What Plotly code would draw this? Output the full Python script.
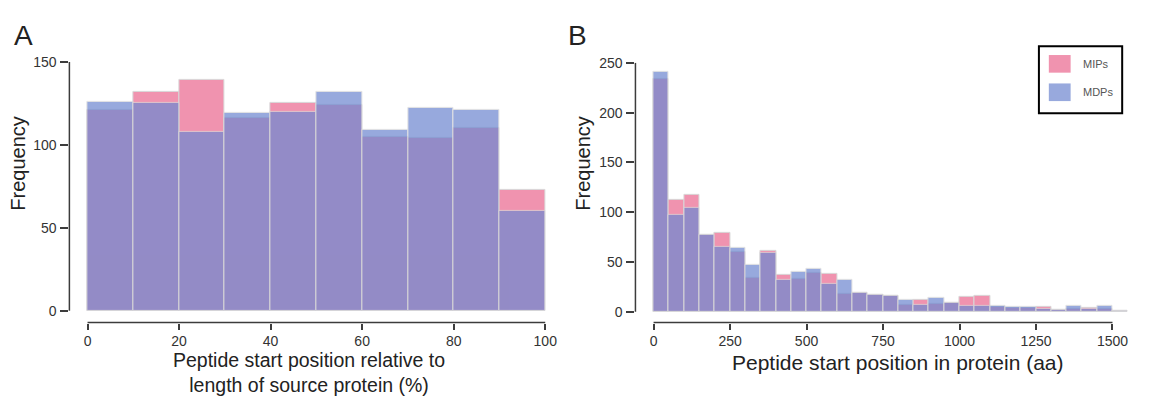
import plotly.graph_objects as go

# ---------------- data ----------------
# Panel A: peptide start position relative to protein length (%), bins of 10
a_edges = [0, 10, 20, 30, 40, 50, 60, 70, 80, 90, 100]
a_mips = [121, 132, 139, 116, 125, 124, 105, 104, 110, 73]
a_mdps = [126, 125, 108, 119, 120, 132, 109, 122, 121, 60]
a_xticks = [0, 20, 40, 60, 80, 100]
a_yticks = [0, 50, 100, 150]

# Panel B: peptide start position in protein (aa), bins of 50
b_edges = list(range(0, 1551, 50))
b_mips = [234, 112, 117, 77, 79, 60, 34, 61, 37, 33, 39, 38, 18, 19, 17, 16,
          7, 12, 8, 9, 15, 16, 5, 4, 4, 5, 2, 3, 4, 3, 1]
b_mdps = [241, 97, 104, 77, 65, 64, 47, 59, 32, 40, 43, 28, 32, 19, 17, 16,
          12, 7, 14, 9, 6, 6, 6, 5, 5, 3, 2, 6, 3, 6, 1]
b_xticks = [0, 250, 500, 750, 1000, 1250, 1500]
b_yticks = [0, 50, 100, 150, 200, 250]

series_names = ["MIPs", "MDPs"]

# ---------------- style ----------------
W, H = 1153, 397
PINK = "#F093AF"
BLUE = "#7088D0"
BLUE_OPACITY = 0.72
OUTLINE = "#d8d8d8"
AXC = "#3c3c3c"
FONT = "Liberation Sans, Arial, sans-serif"


def px_x(p):
    return p / W


def px_y(p):
    return 1 - p / H


def centers(edges):
    return [(edges[i] + edges[i + 1]) / 2 for i in range(len(edges) - 1)]


def widths(edges):
    return [edges[i + 1] - edges[i] for i in range(len(edges) - 1)]


fig = go.Figure()

for xa, ya, edges, mips, mdps in [("x", "y", a_edges, a_mips, a_mdps),
                                  ("x2", "y2", b_edges, b_mips, b_mdps)]:
    fig.add_trace(go.Bar(x=centers(edges), y=mips, width=widths(edges), name=series_names[0],
                         marker=dict(color=PINK, line=dict(color=OUTLINE, width=1)),
                         xaxis=xa, yaxis=ya, showlegend=False))
    fig.add_trace(go.Bar(x=centers(edges), y=mdps, width=widths(edges), name=series_names[1],
                         marker=dict(color=BLUE, line=dict(color=OUTLINE, width=1)),
                         opacity=BLUE_OPACITY,
                         xaxis=xa, yaxis=ya, showlegend=False))

# pixel geometry of the two panels
A_left, A_right, B_left, B_right = 70, 552, 641, 1142
top_A, top_B, bottom = 55, 56, 321

# x ranges (axis 0 at 88.3 px / 100 at 550 px for A; 0 at 659.3 / 1500 at 1122.2 for B)
a_scale = (550 - 88.3) / 100
a_xr = [(A_left - 88.3) / a_scale, (A_right - 88.3) / a_scale]
b_scale = (1122.2 - 659.3) / 1500
b_xr = [(B_left - 659.3) / b_scale, (B_right - 659.3) / b_scale]
# y ranges (0 at 309 px, top of plot = max tick)
a_ys = (309 - 55) / 150
a_yr = [-(bottom - 309) / a_ys, 150]
b_ys = (310 - 56) / 250
b_yr = [-(bottom - 310) / b_ys, 250]

tickfont = dict(family=FONT, size=14, color="#333333")
common_x = dict(showgrid=False, zeroline=False, showline=False, ticks="outside",
                ticklen=6, tickwidth=1.5, tickcolor=AXC, tickfont=tickfont,
                ticklabelstandoff=0)
common_y = dict(showgrid=False, zeroline=False, showline=False, ticks="outside",
                ticklen=8, tickwidth=1.5, tickcolor=AXC, tickfont=tickfont,
                ticklabelstandoff=1)

fig.update_layout(
    width=W, height=H,
    margin=dict(l=0, r=0, t=0, b=0),
    paper_bgcolor="white", plot_bgcolor="white",
    barmode="overlay", bargap=0,
    font=dict(family=FONT),
    xaxis=dict(domain=[px_x(A_left), px_x(A_right)], range=a_xr, tickvals=a_xticks, anchor="y", **common_x),
    yaxis=dict(domain=[px_y(bottom), px_y(top_A)], range=a_yr, tickvals=a_yticks, anchor="x", **common_y),
    xaxis2=dict(domain=[px_x(B_left), px_x(B_right)], range=b_xr, tickvals=b_xticks, anchor="y2", **common_x),
    yaxis2=dict(domain=[px_y(bottom), px_y(top_B)], range=b_yr, tickvals=b_yticks, anchor="x2", **common_y),
)

line = dict(color=AXC, width=1.5)
shapes = [
    dict(type="line", xref="x domain", yref="y", x0=0, x1=0, y0=0, y1=a_yticks[-1], line=line),
    dict(type="line", xref="x", yref="y domain", x0=a_xticks[0], x1=a_xticks[-1], y0=0, y1=0, line=line),
    dict(type="line", xref="x2 domain", yref="y2", x0=0, x1=0, y0=0, y1=b_yticks[-1], line=line),
    dict(type="line", xref="x2", yref="y2 domain", x0=b_xticks[0], x1=b_xticks[-1], y0=0, y1=0, line=line),
    # legend box and keys
    dict(type="rect", xref="paper", yref="paper", x0=px_x(1048), x1=px_x(1132),
         y0=px_y(107.5), y1=px_y(39), line=dict(color="black", width=2), fillcolor="white"),
    dict(type="rect", xref="paper", yref="paper", x0=px_x(1058), x1=px_x(1080),
         y0=px_y(66), y1=px_y(48), line=dict(width=0), fillcolor=PINK),
    dict(type="rect", xref="paper", yref="paper", x0=px_x(1058), x1=px_x(1080),
         y0=px_y(95), y1=px_y(77), line=dict(width=0), fillcolor=BLUE, opacity=BLUE_OPACITY),
]
fig.update_layout(shapes=shapes)

ann = [
    dict(text="A", x=px_x(12), y=px_y(10), xanchor="left", yanchor="top",
         font=dict(size=28, color="#222")),
    dict(text="B", x=px_x(571), y=px_y(10), xanchor="left", yanchor="top",
         font=dict(size=28, color="#222")),
    dict(text="Frequency", x=px_x(18), y=px_y(158), textangle=-90,
         xanchor="center", yanchor="middle", font=dict(size=20, color="#222")),
    dict(text="Frequency", x=px_x(588), y=px_y(158), textangle=-90,
         xanchor="center", yanchor="middle", font=dict(size=20, color="#222")),
    dict(text="Peptide start position relative to<br>length of source protein (%)",
         x=px_x(312), y=px_y(372), xanchor="center", yanchor="middle",
         font=dict(size=19.5, color="#222")),
    dict(text="Peptide start position in protein (aa)",
         x=px_x(906), y=px_y(362), xanchor="center", yanchor="middle",
         font=dict(size=21, color="#222")),
    dict(text=series_names[0], x=px_x(1090), y=px_y(57), xanchor="left", yanchor="middle",
         font=dict(size=11, color="#555")),
    dict(text=series_names[1], x=px_x(1090), y=px_y(86), xanchor="left", yanchor="middle",
         font=dict(size=11, color="#555")),
]
for a in ann:
    a.update(xref="paper", yref="paper", showarrow=False)
fig.update_layout(annotations=ann)

fig.write_html("out.html")
